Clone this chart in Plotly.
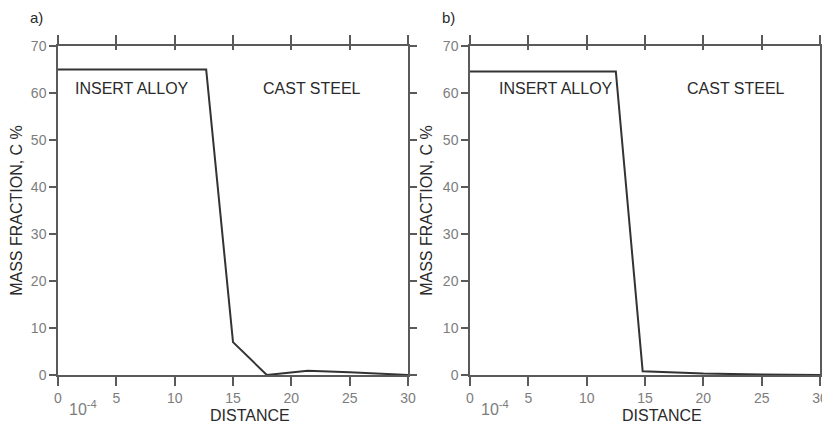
import plotly.graph_objects as go

# data
dist_a = [0, 12.7, 15.0, 17.9, 21.4, 25.0, 30.0]
frac_a = [65.0, 65.0, 7.0, 0.0, 0.9, 0.6, 0.0]
dist_b = [0, 12.5, 14.8, 17.5, 20.0, 25.0, 30.0]
frac_b = [64.6, 64.6, 0.8, 0.5, 0.3, 0.1, 0.0]
x_ticks = [0, 5, 10, 15, 20, 25, 30]
y_ticks = [0, 10, 20, 30, 40, 50, 60, 70]
region_labels = ["INSERT ALLOY", "CAST STEEL"]
label_pos_a = [6.3, 21.8]
label_pos_b = [7.35, 22.8]
label_y = 61
panel_names = ["a)", "b)"]

# page is shown with the browser's default 8px body margin
OFF = 8
W, H = 830 - OFF, 432 - 2 * OFF
FONT = "Liberation Sans, Arial, sans-serif"
AX = "#5a5a5a"
TICKC = "#7d7d7d"
LINE = "#333333"
TXT = "#2a2a2a"

def px_x(p):
    return (p - OFF) / W

def px_y(p):
    return 1 - (p - OFF) / H

fig = go.Figure()
fig.add_trace(go.Scatter(x=dist_a, y=frac_a, mode="lines", line=dict(color=LINE, width=2),
                         xaxis="x", yaxis="y", showlegend=False))
fig.add_trace(go.Scatter(x=dist_b, y=frac_b, mode="lines", line=dict(color=LINE, width=2),
                         xaxis="x2", yaxis="y2", showlegend=False))
fig.add_trace(go.Scatter(x=[None], y=[None], xaxis="x3", yaxis="y", showlegend=False, hoverinfo="skip"))
fig.add_trace(go.Scatter(x=[None], y=[None], xaxis="x4", yaxis="y2", showlegend=False, hoverinfo="skip"))

ydom = [px_y(375), px_y(46)]
xdom1 = [px_x(58), px_x(408)]
xdom2 = [px_x(470), px_x(820)]

def xaxis(dom, anchor):
    return dict(domain=dom, anchor=anchor, range=[0, 30], tickvals=x_ticks, automargin=False,
                showgrid=False, zeroline=False, showline=True, linecolor=AX, linewidth=1.5,
                ticks="outside", ticklen=9, tickwidth=1.5, tickcolor=AX, mirror="ticks",
                ticklabeloverflow="allow",
                tickfont=dict(family=FONT, size=14, color=TICKC), fixedrange=True)

def top_axis(over, anchor):
    return dict(overlaying=over, anchor=anchor, side="top", range=[0, 30], tickvals=x_ticks,
                automargin=False, showgrid=False, zeroline=False, showline=False,
                showticklabels=False, ticks="inside", ticklen=4, tickwidth=1.5, tickcolor=AX)

def yaxis(dom, anchor):
    return dict(domain=dom, anchor=anchor, range=[0, 70], tickvals=y_ticks, automargin=False,
                showgrid=False, zeroline=False, showline=True, linecolor=AX, linewidth=1.5,
                ticks="outside", ticklen=7, tickwidth=1.5, tickcolor=AX, mirror="ticks",
                tickfont=dict(family=FONT, size=14, color=TICKC),
                title=dict(text="MASS FRACTION, C %", font=dict(family=FONT, size=16, color=TXT),
                           standoff=6), fixedrange=True)

fig.update_layout(
    width=W, height=H, margin=dict(l=0, r=0, t=0, b=0, autoexpand=False),
    paper_bgcolor="white", plot_bgcolor="white",
    xaxis=xaxis(xdom1, "y"), yaxis=yaxis(ydom, "x"),
    xaxis2=xaxis(xdom2, "y2"), yaxis2=yaxis(ydom, "x2"),
    xaxis3=top_axis("x", "y"), xaxis4=top_axis("x2", "y2"),
)

def ann(x, y, text, size, color, xref="paper", yref="paper"):
    return dict(x=x, y=y, xref=xref, yref=yref, text=text, showarrow=False,
                xanchor="center", yanchor="middle",
                font=dict(family=FONT, size=size, color=color))

anns = []
for xr, yr, pos in [("x", "y", label_pos_a), ("x2", "y2", label_pos_b)]:
    for t, px in zip(region_labels, pos):
        anns.append(ann(px, label_y, t, 16, TXT, xr, yr))
for name, px in zip(panel_names, [36, 448]):
    anns.append(ann(px_x(px), px_y(17), name, 15, TXT))
for px in [83, 495]:
    anns.append(ann(px_x(px), px_y(408), "10<sup>-4</sup>", 16, TICKC))
for px in [250, 662]:
    anns.append(ann(px_x(px), px_y(415), "DISTANCE", 16, TXT))
fig.update_layout(annotations=anns)

fig.write_html("out.html")
